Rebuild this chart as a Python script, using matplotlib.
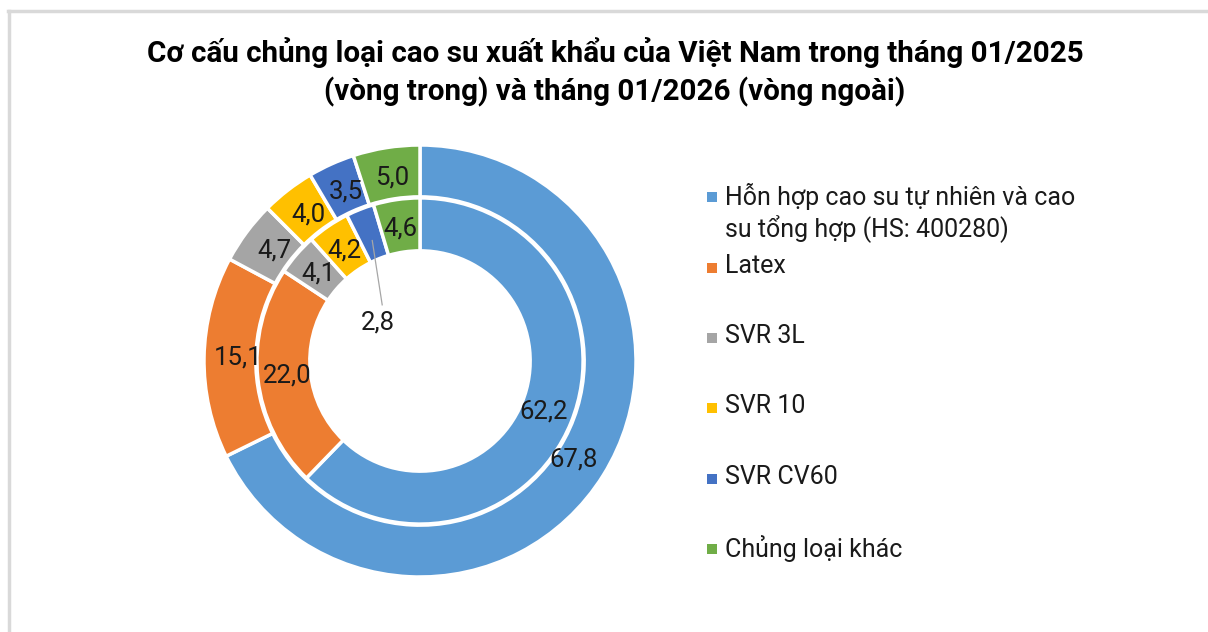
import numpy as np
import matplotlib.pyplot as plt
from matplotlib.lines import Line2D
from matplotlib.patches import Rectangle

plt.rcParams['font.family'] = ['Roboto', 'DejaVu Sans']

# ---------------------------------------------------------------------
# data
# ---------------------------------------------------------------------
categories = [
    "Hỗn hợp cao su tự nhiên và cao\nsu tổng hợp (HS: 400280)",
    "Latex",
    "SVR 3L",
    "SVR 10",
    "SVR CV60",
    "Chủng loại khác",
]
share_2026 = [67.8, 15.1, 4.7, 4.0, 3.5, 5.0]   # outer ring
share_2025 = [62.2, 22.0, 4.1, 4.2, 2.8, 4.6]   # inner ring
colors = ["#5B9BD5", "#ED7D31", "#A5A5A5", "#FFC000", "#4472C4", "#70AD47"]

title = ("Cơ cấu chủng loại cao su xuất khẩu của Việt Nam trong tháng 01/2025\n"
         "(vòng trong) và tháng 01/2026 (vòng ngoài)")


def fmt(v):
    return f"{v:.1f}".replace(".", ",")


W, H = 1208, 632
fig = plt.figure(figsize=(W / 100, H / 100), dpi=100)

# light frame (top + left edges only)
fig.add_artist(Line2D([8 / W, 1], [1 - 11 / H, 1 - 11 / H], color="#d9d9d9", lw=2.5))
fig.add_artist(Line2D([9 / W, 9 / W], [0, 1 - 11 / H], color="#d9d9d9", lw=2.5))

fig.text(615 / W, 1 - 72 / H, title, ha="center", va="center", fontsize=21.3,
         fontweight="bold", linespacing=1.35)

cx, cy, R = 420, 361, 216
ax = fig.add_axes([(cx - R) / W, (H - cy - R) / H, 2 * R / W, 2 * R / H])

outer, _ = ax.pie(share_2026, radius=1.0, colors=colors, startangle=90,
                  counterclock=False,
                  wedgeprops=dict(width=0.24, edgecolor="white", linewidth=2.5))
inner, _ = ax.pie(share_2025, radius=0.755, colors=colors, startangle=90,
                  counterclock=False,
                  wedgeprops=dict(width=0.245, edgecolor="white", linewidth=2.5))
ax.set_xlim(-1, 1)
ax.set_ylim(-1, 1)
ax.set_aspect("equal")
ax.axis("off")


def mid(w):
    return np.deg2rad((w.theta1 + w.theta2) / 2)


for w, v in zip(outer, share_2026):
    a = mid(w)
    ax.text(0.84 * np.cos(a), 0.86 * np.sin(a), fmt(v), ha="center", va="center",
            fontsize=18.5, color="#1a1a1a")

for w, v in zip(inner, share_2025):
    a = mid(w)
    if v < 3:
        # small slice: label pulled into the hole with a leader line
        lx, ly = -0.195, 0.18
        ax.plot([0.6 * np.cos(a), lx + 0.02], [0.6 * np.sin(a), ly + 0.08],
                color="#a6a6a6", lw=0.9)
        ax.text(lx, ly, fmt(v), ha="center", va="center", fontsize=18.5, color="#1a1a1a")
    else:
        ax.text(0.62 * np.cos(a), 0.62 * np.sin(a), fmt(v), ha="center", va="center",
                fontsize=18.5, color="#1a1a1a")

# legend drawn by hand to follow the uneven spacing
leg_y = [197, 268, 338, 408, 479, 549]
for lab, col, y in zip(categories, colors, leg_y):
    fig.add_artist(Rectangle((707 / W, 1 - (y + 5) / H), 10 / W, 10 / H,
                             facecolor=col, edgecolor="none"))
    fig.text(725 / W, 1 - (y - 14) / H, lab, ha="left", va="top", fontsize=18,
             color="#1a1a1a", linespacing=1.2)

fig.savefig("out.png", dpi=100, facecolor="white")
